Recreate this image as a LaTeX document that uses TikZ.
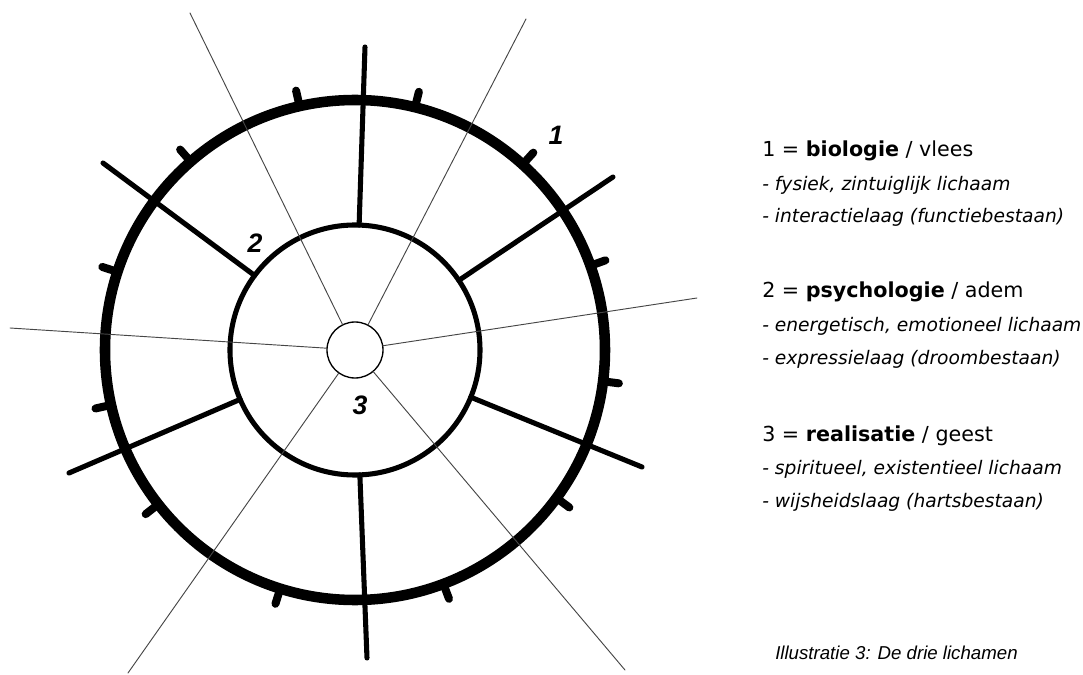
\documentclass[tikz,border=0pt]{standalone}
\usepackage{fontspec}
\setmainfont{DejaVu Sans}
\newfontfamily\capfont{Liberation Sans}
\usetikzlibrary{positioning}
\definecolor{raygray}{RGB}{70,70,70}

\begin{document}
\begin{tikzpicture}[x=0.75pt,y=0.75pt,line cap=round]
\tikzstyle{ring}=[draw,circle,inner sep=0pt,outer sep=0pt]
\tikzstyle{spoke}=[line width=3.8pt]
\tikzstyle{ray}=[draw=raygray,line width=0.7pt]
\tikzstyle{nr}=[inner sep=0pt,font=\capfont\bfseries\itshape\fontsize{20}{20}\selectfont]
\tikzstyle{head}=[anchor=base west,inner sep=0pt,font=\fontsize{15.5}{18}\selectfont]
\tikzstyle{sub}=[anchor=base west,inner sep=0pt,font=\itshape\fontsize{14}{16}\selectfont]
\useasboundingbox (-355,-325) rectangle (728,350);
% de drie lichamen
\node[ring,line width=7.9pt,minimum size=375pt] (outer) at (0,0) {};
\node[ring,line width=3.8pt,minimum size=187.5pt] (mid) at (0,0) {};
\node[ring,line width=1pt,minimum size=42pt] (core) at (0,0) {};
% dunne stralen vanuit de kern
\coordinate (r1) at (-165,337);
\coordinate (r2) at (171,331);
\coordinate (r3) at (342,52);
\coordinate (r4) at (270,-320);
\coordinate (r5) at (-227,-323);
\coordinate (r6) at (-345,22);
\foreach \i in {1,...,6} \draw[ray] (core) -- (r\i);
% dikke spaken
\coordinate (s1) at (10,303);
\coordinate (s2) at (258,173);
\coordinate (s3) at (287,-117);
\coordinate (s4) at (12,-308);
\coordinate (s5) at (-286,-123);
\coordinate (s6) at (-252,187);
\foreach \i in {1,...,6} \draw[spoke] (mid) -- (s\i);
% streepjes op de buitenring
\foreach \a in {102.8,76.1,47.9,19.7,-7.2,-36.3,-69.3,-107.4,-141.9,-167.3,161.8,131.1}
  \draw[line width=6pt] (\a:250) -- (\a:266);
\node[nr] (n1) at (201,215) {1};
\node[nr] (n2) at (-100,107) {2};
\node[nr] (n3) at (5,-55) {3};
% legenda
\node[head] (bio) at (407,193) {1 = \textbf{biologie} / vlees};
\node[sub] (bio1) at (407,159) {- fysiek, zintuiglijk lichaam};
\node[sub] (bio2) at (407,127) {- interactielaag (functiebestaan)};
\node[head] (psy) at (407,52) {2 = \textbf{psychologie} / adem};
\node[sub] (psy1) at (407,18) {- energetisch, emotioneel lichaam};
\node[sub] (psy2) at (407,-15) {- expressielaag (droombestaan)};
\node[head] (rea) at (407,-92) {3 = \textbf{realisatie} / geest};
\node[sub] (rea1) at (407,-125) {- spiritueel, existentieel lichaam};
\node[sub] (rea2) at (407,-157) {- wijsheidslaag (hartsbestaan)};
\node[anchor=base west,inner sep=0pt,font=\capfont\itshape\fontsize{14}{16}\selectfont] (cap) at (420,-309) {Illustratie 3: De drie lichamen};
\end{tikzpicture}
\end{document}
